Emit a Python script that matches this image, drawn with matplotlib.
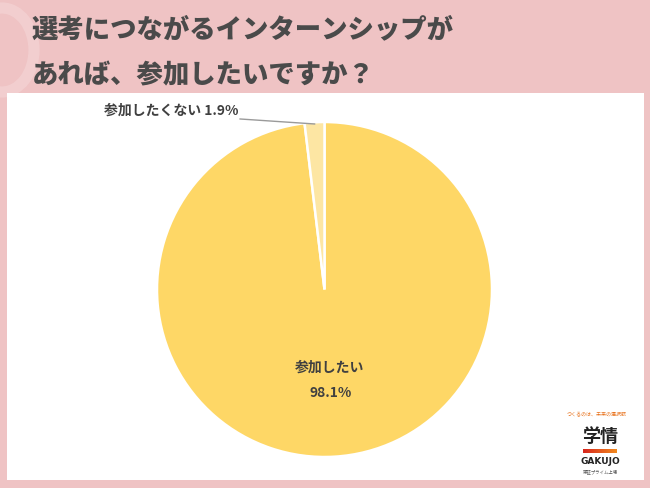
import matplotlib.pyplot as plt
import numpy as np
from matplotlib.patches import Rectangle, Ellipse

plt.rcParams['font.family'] = ['Noto Sans CJK JP', 'DejaVu Sans']

# データ
title = '選考につながるインターンシップが\nあれば、参加したいですか？'
labels = ['参加したい', '参加したくない']
values = [98.1, 1.9]
colors = ['#FED766', '#FDE6A3']

W, H = 650, 488
fig = plt.figure(figsize=(W / 100, H / 100), dpi=100)
fig.patch.set_facecolor('#EFC3C4')


def fx(px):
    return px / W


def fy(py):
    return 1 - py / H


# 白いパネル
fig.patches.append(Rectangle((fx(7), fy(480)), fx(644) - fx(7), fy(93) - fy(480),
                             transform=fig.transFigure, facecolor='white',
                             edgecolor='none', zorder=-2))

# 左上の飾り（Qの輪）
fig.patches.append(Ellipse((fx(2), fy(50)), 64 / W, 84 / H, transform=fig.transFigure,
                           facecolor='none', edgecolor='white', linewidth=8,
                           alpha=0.2, zorder=-3))

# タイトル
fig.text(fx(32), fy(52), title, fontsize=19, fontweight=900, color='#4A4A4A',
         ha='left', va='center', linespacing=1.75)

# 円グラフ
cx, cy, r = 324.5, 289.5, 167.5
ax = fig.add_axes([fx(cx - r), fy(cy + r), 2 * r / W, 2 * r / H])
ax.pie(values, colors=colors, startangle=90, counterclock=False,
       wedgeprops=dict(edgecolor='white', linewidth=1.8))
ax.set_xlim(-1, 1)
ax.set_ylim(-1, 1)
ax.set_aspect('auto')
ax.axis('off')

# ラベル
angles = []
start = 90
for v in values:
    angles.append(np.deg2rad(start - v * 3.6 / 2))
    start -= v * 3.6

a0 = angles[0]
ax.text(0.47 * np.cos(a0), 0.47 * np.sin(a0), labels[0], fontsize=10,
        fontweight='bold', color='#404040', ha='center', va='center')
ax.text(0.62 * np.cos(a0), 0.62 * np.sin(a0), f'{values[0]}%', fontsize=10,
        fontweight='bold', color='#404040', ha='center', va='center')

a1 = angles[1]
ax.plot([-0.504, 0.99 * np.cos(a1)], [1.018, 0.99 * np.sin(a1)], color='#9A9A9A',
        lw=1, clip_on=False)
ax.text(-0.516, 1.07, f'{labels[1]} {values[1]}%', fontsize=10, fontweight='bold',
        color='#404040', ha='right', va='center', clip_on=False)

# ロゴ
fig.text(fx(597), fy(414), 'つくるのは、未来の選択肢', fontsize=3.6, color='#E8731E',
         ha='center', va='center')
fig.text(fx(600), fy(436), '学情', fontsize=13, color='#222222', ha='center',
         va='center', fontweight='bold')
grad = np.linspace(0, 1, 50).reshape(1, -1)
lax = fig.add_axes([fx(583), fy(453), fx(617) - fx(583), 4 / H])
lax.imshow(grad, aspect='auto', cmap=plt.matplotlib.colors.LinearSegmentedColormap.from_list(
    'g', ['#D7261E', '#F28A1E']))
lax.axis('off')
fig.text(fx(600), fy(462), 'GAKUJO', fontsize=6.5, color='#222222', ha='center',
         va='center', fontweight='bold', family='DejaVu Sans')
fig.text(fx(600), fy(472), '東証プライム上場', fontsize=3.2, color='#555555',
         ha='center', va='center')

fig.savefig('out.png', dpi=100, facecolor=fig.get_facecolor())
